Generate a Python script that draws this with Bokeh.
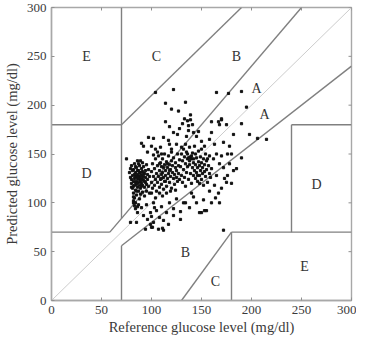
from bokeh.plotting import figure
from bokeh.models import Range1d, FixedTicker
from bokeh.core.properties import value
from bokeh.embed import file_html
from bokeh.resources import INLINE

# ---------------- data ----------------
pts = [
    # dense left cluster
    (78,131),(79,126),(80,138),(80,120),(81,128),(81,115),(82,134),(82,122),(82,110),(83,140),(83,125),(83,118),(83,105),(84,131),(84,127),(84,113),(84,100),(85,136),(85,122),(85,119),(85,108),(86,143),(86,129),(86,125),(86,116),(86,96),(87,133),(87,121),(87,112),(88,138),(88,127),(88,124),(88,118),(88,104),(89,131),(89,122),(89,115),(89,109),(90,135),(90,128),(90,120),(90,125),(91,141),(91,132),(91,118),(91,111),(92,127),(92,123),(92,137),(93,130),(93,116),(93,107),(94,133),(94,126),(94,121),(95,139),(95,119),(95,112),(96,129),(96,124),(97,134),(97,117),(98,127),(98,110),(80,124),(81,133),(82,117),(83,129),(84,121),(85,127),(86,133),(87,126),(88,131),(89,128),(90,117),(91,124),(92,130),(93,122),(79,135),(84,137),(87,140),(89,143),(82,102),(83,97),(84,94),(85,112),(80,116),
    # middle cluster
    (100,132),(100,121),(101,140),(101,115),(102,127),(103,135),(103,118),(104,145),(104,124),(105,130),(105,112),(106,138),(106,121),(107,127),(107,148),(108,133),(108,116),(109,141),(109,124),(110,129),(110,137),(110,119),(111,145),(111,131),(112,126),(112,114),(113,139),(113,122),(114,133),(114,128),(115,142),(115,117),(116,136),(116,125),(117,130),(117,148),(118,121),(118,139),(119,134),(119,127),(120,143),(120,115),(121,131),(121,138),(122,125),(122,146),(123,129),(123,119),(124,136),(124,141),(125,126),(125,133),(126,150),(126,122),(127,138),(127,130),(128,144),(128,124),(102,149),(106,152),(108,110),(111,107),(113,150),(115,110),(119,112),(104,105),(100,110),(120,152),(124,113),(108,140),(112,136),(116,140),(118,133),(110,125),(114,122),
    # right cluster
    (129,137),(130,150),(130,128),(131,143),(131,121),(132,155),(132,134),(133,147),(133,126),(134,140),(134,117),(135,152),(135,131),(136,145),(136,137),(137,146),(137,124),(138,143),(138,139),(139,147),(139,130),(140,145),(140,120),(141,136),(141,151),(142,128),(142,141),(143,133),(143,158),(144,125),(144,139),(145,146),(145,131),(146,136),(146,122),(147,142),(147,153),(148,128),(148,138),(149,133),(149,147),(150,124),(150,141),(151,130),(151,136),(152,145),(152,118),(153,132),(153,139),(154,127),(155,143),(155,134),(156,121),(157,138),(158,130),(158,148),(159,126),(160,135),(138,146),(140,148),(136,150),(142,145),(144,150),(146,128),(148,120),(150,155),(134,160),(138,157),(154,150),(156,145),
    # upper sparse
    (104,213),(122,216),(165,213),(177,212),(114,202),(134,203),(120,196),(127,194),(133,186),(136,184),(139,185),(131,181),(137,179),(141,180),(114,183),(118,178),(160,183),(167,183),(170,185),(168,180),(122,172),(126,170),(112,167),(117,164),(137,174),(142,172),(147,173),(145,168),(97,167),(102,166),(90,161),(92,158),(109,157),(104,155),(118,160),(120,155),(125,160),(130,157),(150,163),(153,158),(158,165),(163,160),(172,162),(176,150),(170,148),(75,145),(128,176),(139,190),(135,168),(110,150),(96,152),(100,158),(160,172),
    (190,214),(195,198),(190,181),(198,170),(206,166),(215,165),(182,170),(178,158),(180,150),(190,146),(170,186),(175,180),
    # lower region
    (79,80),(86,90),(94,73),(100,75),(107,73),(112,72),(99,78),(129,83),(122,87),(129,91),(134,100),(150,90),(155,92),(152,103),(164,105),(168,100),(172,72),(82,106),(82,100),(102,100),(99,90),(102,80),(101,75),(111,74),(92,87),(85,80),(122,94),(132,100),(142,106),(148,90),(153,92),(90,95),(95,98),(105,92),(108,85),(110,96),(115,90),(118,100),(125,104),(138,95),(145,100),(100,86),(103,95),(87,98),(112,82),(117,78),(96,83),(140,110),(160,100),
    # right region
    (175,121),(180,120),(182,133),(172,136),(165,128),(168,140),(170,115),(163,118),(176,128),(178,140),(162,145),(167,110),(173,125),(158,112),(165,150),(185,135),
]
reference = [a for a, b in pts]
predicted = [b for a, b in pts]

# Clarke error grid zone boundaries
zone_x0 = [0, 175/3, 70, 0, 70, 70, 70, 180, 180, 240, 240, 130]
zone_y0 = [70, 70, 84, 180, 180, 0, 56, 0, 70, 70, 180, 0]
zone_x1 = [175/3, 250, 70, 70, 190, 70, 300, 180, 300, 240, 300, 180]
zone_y1 = [70, 300, 300, 180, 300, 56, 240, 70, 70, 180, 180, 70]
diag_x = [0, 300]
diag_y = [0, 300]

label_text = ["E", "C", "B", "A", "A", "D", "D", "B", "C", "E"]
label_x = [35, 105, 185, 205, 213, 35, 265, 134, 164, 253]
label_y = [250, 250, 250, 217, 190, 130, 119, 49, 19, 35]

ticks = [0, 50, 100, 150, 200, 250, 300]
x_max = 300
y_max = 300

# ---------------- figure ----------------
FONT = "Liberation Serif"
W, H = 356, 337
p = figure(width=W, height=H, output_backend="svg", toolbar_location=None,
           x_range=Range1d(0, x_max), y_range=Range1d(0, y_max),
           min_border_left=49, min_border_right=5, min_border_top=7, min_border_bottom=30)
p.grid.visible = False
p.outline_line_color = "#a8a8a8"
p.outline_line_width = 1.4
p.background_fill_color = "white"
p.border_fill_color = "white"

p.line(diag_x, diag_y, line_color="#cccccc", line_width=1)
p.segment(x0=zone_x0, y0=zone_y0, x1=zone_x1, y1=zone_y1, line_color="#808080", line_width=1.4)
p.scatter(reference, predicted, marker="square", size=2.2, color="#111111")
p.text(label_x, label_y, text=label_text, text_font=value(FONT), text_font_size="14px",
       text_align="center", text_baseline="middle", text_color="#333333")

# tick marks on the top and right edges of the box
p.scatter(ticks, [y_max] * len(ticks), marker="dash", angle=1.5708, size=6,
          line_color="#909090", line_width=1)
p.scatter([x_max] * len(ticks), ticks, marker="dash", size=6,
          line_color="#909090", line_width=1)

for ax in (p.xaxis[0], p.yaxis[0]):
    ax.ticker = FixedTicker(ticks=ticks)
    ax.major_tick_in = 3
    ax.major_tick_out = 0
    ax.minor_tick_in = 0
    ax.minor_tick_out = 0
    ax.axis_line_color = "#a8a8a8"
    ax.axis_line_width = 1.4
    ax.major_tick_line_color = "#909090"
    ax.major_label_text_font = FONT
    ax.major_label_text_font_size = "13px"
    ax.major_label_text_color = "#3a3a3a"
    ax.axis_label_text_font = FONT
    ax.axis_label_text_font_size = "14.5px"
    ax.axis_label_text_font_style = "normal"
    ax.axis_label_text_color = "#3a3a3a"
p.xaxis[0].axis_label = "Reference glucose level (mg/dl)"
p.yaxis[0].axis_label = "Predicted glucose level (mg/dl)"
p.xaxis[0].major_label_standoff = 5
p.yaxis[0].major_label_standoff = 5
p.xaxis[0].axis_label_standoff = 2
p.yaxis[0].axis_label_standoff = 4

open("out.html", "w").write(file_html(p, INLINE))
